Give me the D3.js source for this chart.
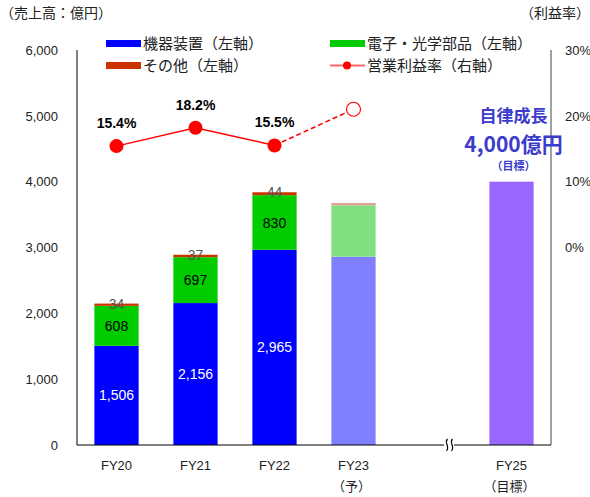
<!DOCTYPE html>
<html lang="ja">
<head>
<meta charset="UTF-8">
<title>売上高・営業利益率</title>
<script src="https://d3js.org/d3.v7.min.js"></script>
<style>
  body { margin: 0; background: #fff; }
  text { font-family: "Liberation Sans", Arial, "Noto Sans CJK JP", sans-serif; }
  .jp { font-family: "Noto Sans CJK JP", sans-serif; }
</style>
</head>
<body>
<script>
// data
const years = ["FY20", "FY21", "FY22", "FY23", "", "FY25"];
const subLabels = ["", "", "", "（予）", "", "（目標）"];
const equipment = [1506, 2156, 2965, 2860, null, null];
const electronics = [608, 697, 830, 780, null, null];
const others = [34, 37, 44, 35, null, null];
const target = [null, null, null, null, null, 4000];
const margin = [15.4, 18.2, 15.5, 21.0, null, null];
const marginLabels = ["15.4%", "18.2%", "15.5%", "", "", ""];
const leftTicks = [0, 1000, 2000, 3000, 4000, 5000, 6000];
const rightTicks = [0, 10, 20, 30];

const width = 590, height = 497;
const svg = d3.select('body').append('svg')
  .attr('width', width).attr('height', height);

const x = d3.scaleBand().domain(d3.range(years.length))
  .range([77, 551]).paddingInner(0.44).paddingOuter(0.22);
const y = d3.scaleLinear().domain([0, 6000]).range([445, 50]);
const yr = d3.scaleLinear().domain([-30, 30]).range([445, 50]);

const solidCol = ['#0000ff', '#00cc00', '#cc3300'];
const lightCol = ['#8080ff', '#80e080', '#dca090'];

// stacked bars
const series = [equipment, electronics, others];
years.forEach((yy, i) => {
  let base = 0;
  series.forEach((s, k) => {
    if (s[i] == null) return;
    const cols = i === 3 ? lightCol : solidCol;
    svg.append('rect')
      .attr('x', x(i)).attr('width', x.bandwidth())
      .attr('y', y(base + s[i])).attr('height', y(base) - y(base + s[i]))
      .attr('fill', cols[k]);
    if (i < 3) {
      const mid = k === 2 ? y(base + s[i]) : (y(base) + y(base + s[i])) / 2;
      svg.append('text')
        .attr('x', x(i) + x.bandwidth() / 2).attr('y', mid).attr('dy', '0.36em')
        .attr('text-anchor', 'middle')
        .attr('font-size', 14)
        .attr('fill', k === 0 ? '#fff' : (k === 1 ? '#000' : '#555'))
        .text(d3.format(',')(s[i]));
    }
    base += s[i];
  });
  if (target[i] != null) {
    svg.append('rect')
      .attr('x', x(i)).attr('width', x.bandwidth())
      .attr('y', y(target[i])).attr('height', y(0) - y(target[i]))
      .attr('fill', '#9966ff');
  }
});

// axes
svg.append('line').attr('x1', 77).attr('x2', 77).attr('y1', 50).attr('y2', 445)
  .attr('stroke', '#000');
svg.append('line').attr('x1', 551).attr('x2', 551).attr('y1', 50).attr('y2', 445)
  .attr('stroke', '#808080').attr('stroke-width', 1.5);
svg.append('line').attr('x1', 77).attr('x2', 551).attr('y1', 445).attr('y2', 445)
  .attr('stroke', '#000');

svg.selectAll('.lt').data(leftTicks).enter().append('text')
  .attr('x', 58).attr('y', d => y(d)).attr('dy', '0.36em')
  .attr('text-anchor', 'end').attr('font-size', 13).attr('fill', '#222')
  .text(d => d3.format(',')(d));
svg.selectAll('.rt').data(rightTicks).enter().append('text')
  .attr('x', 565).attr('y', d => yr(d)).attr('dy', '0.36em')
  .attr('font-size', 13).attr('fill', '#222')
  .text(d => d + '%');

// axis break
const bx = 449;
svg.append('rect').attr('x', bx - 5).attr('y', 441).attr('width', 10).attr('height', 8).attr('fill', '#fff');
[-2.5, 2.5].forEach(o => {
  svg.append('path')
    .attr('d', `M${bx + o + 1},439 C${bx + o - 3},443 ${bx + o + 4},446 ${bx + o},451`)
    .attr('fill', 'none').attr('stroke', '#000').attr('stroke-width', 1.2);
});

// x labels
years.forEach((yy, i) => {
  const cx = x(i) + x.bandwidth() / 2;
  svg.append('text').attr('x', cx).attr('y', 470).attr('text-anchor', 'middle')
    .attr('font-size', 13).attr('fill', '#222').text(yy);
  if (subLabels[i]) {
    svg.append('text').attr('class', 'jp').attr('x', cx - 2).attr('y', 491).attr('text-anchor', 'middle')
      .attr('font-size', 13).attr('fill', '#222').text(subLabels[i]);
  }
});

// margin line
const pts = margin.map((m, i) => m == null ? null : [x(i) + x.bandwidth() / 2, yr(m)]).filter(d => d);
const line = d3.line();
svg.append('path').attr('d', line(pts.slice(0, 3)))
  .attr('fill', 'none').attr('stroke', '#ff0000').attr('stroke-width', 1.5);
svg.append('path').attr('d', line(pts.slice(2, 4)))
  .attr('fill', 'none').attr('stroke', '#ff0000').attr('stroke-width', 1.5)
  .attr('stroke-dasharray', '5,3');
pts.slice(0, 3).forEach(p => {
  svg.append('circle').attr('cx', p[0]).attr('cy', p[1]).attr('r', 7).attr('fill', '#ff0000');
});
svg.append('circle').attr('cx', pts[3][0]).attr('cy', pts[3][1]).attr('r', 7)
  .attr('fill', '#fff').attr('stroke', '#ff0000').attr('stroke-width', 1.2);
marginLabels.forEach((t, i) => {
  if (!t) return;
  svg.append('text').attr('x', x(i) + x.bandwidth() / 2).attr('y', yr(margin[i]) - 18)
    .attr('text-anchor', 'middle').attr('font-size', 14).attr('font-weight', 'bold')
    .attr('fill', '#000').text(t);
});

// annotation
const ac = '#3b3bcc';
const ax = x(5) + x.bandwidth() / 2 + 2;
svg.append('text').attr('class', 'jp').attr('x', ax).attr('y', 122).attr('text-anchor', 'middle')
  .attr('font-size', 17).attr('font-weight', 'bold').attr('fill', ac).text('自律成長');
svg.append('text').attr('class', 'jp').attr('x', ax).attr('y', 152).attr('text-anchor', 'middle')
  .attr('font-size', 21).attr('font-weight', 'bold').attr('fill', ac).text('4,000億円');
svg.append('text').attr('class', 'jp').attr('x', ax).attr('y', 170).attr('text-anchor', 'middle')
  .attr('font-size', 11).attr('font-weight', 'bold').attr('fill', ac).text('（目標）');

// titles
svg.append('text').attr('class', 'jp').attr('x', 0).attr('y', 18)
  .attr('font-size', 14).attr('fill', '#222').text('（売上高：億円）');
svg.append('text').attr('class', 'jp').attr('x', 590).attr('y', 18).attr('text-anchor', 'end')
  .attr('font-size', 14).attr('fill', '#222').text('（利益率）');

// legend
const legend = [
  { name: '機器装置（左軸）', color: '#0000ff', x: 106, y: 44, type: 'rect' },
  { name: '電子・光学部品（左軸）', color: '#00cc00', x: 330, y: 44, type: 'rect' },
  { name: 'その他（左軸）', color: '#cc3300', x: 106, y: 66, type: 'rect' },
  { name: '営業利益率（右軸）', color: '#ff0000', x: 330, y: 66, type: 'line' }
];
legend.forEach(l => {
  if (l.type === 'rect') {
    svg.append('rect').attr('x', l.x).attr('y', l.y - 4).attr('width', 35).attr('height', 7).attr('fill', l.color);
  } else {
    svg.append('line').attr('x1', l.x).attr('x2', l.x + 35).attr('y1', l.y - 0.5).attr('y2', l.y - 0.5)
      .attr('stroke', '#ff6666').attr('stroke-width', 2);
    svg.append('circle').attr('cx', l.x + 17).attr('cy', l.y - 0.5).attr('r', 4).attr('fill', '#ff0000');
  }
  svg.append('text').attr('class', 'jp').attr('x', l.x + 37).attr('y', l.y).attr('dy', '0.36em')
    .attr('font-size', 15).attr('fill', '#222').text(l.name);
});
</script>
</body>
</html>
